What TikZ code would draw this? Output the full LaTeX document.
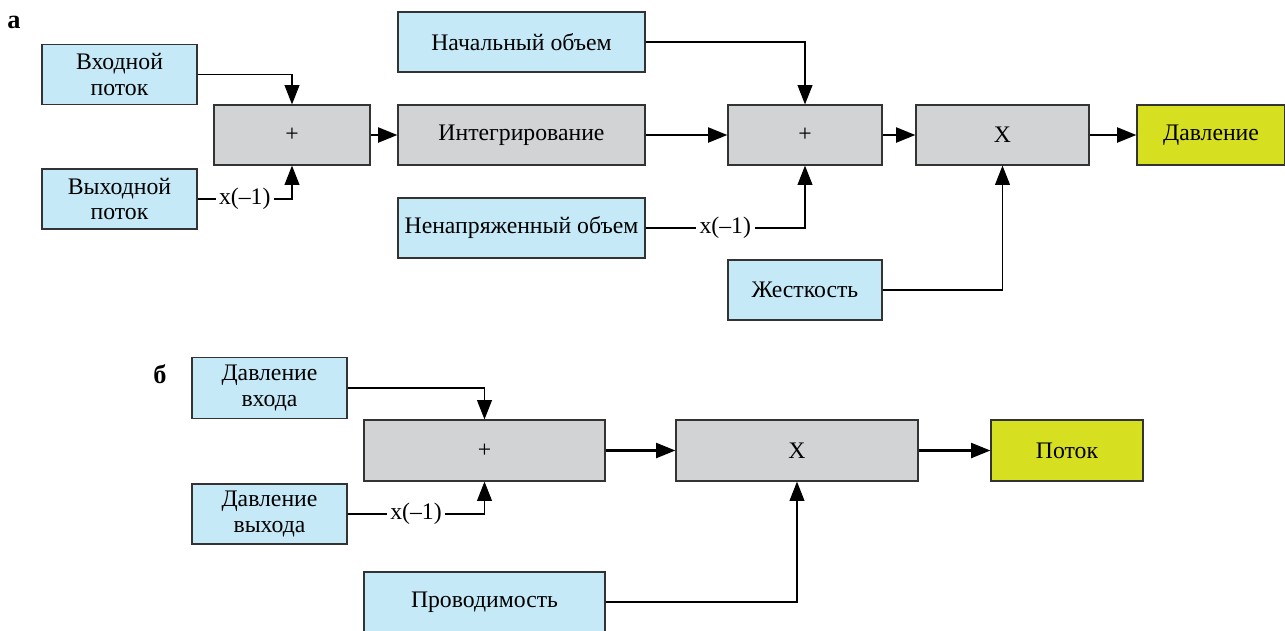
\documentclass[tikz,border=0pt]{standalone}
\usepackage{fontspec}
\setmainfont{Liberation Serif}
\usetikzlibrary{arrows.meta}
\definecolor{inblue}{HTML}{C6E9F8}
\definecolor{opgray}{HTML}{D1D3D4}
\definecolor{outyellow}{HTML}{D7DF21}
\begin{document}
\begin{tikzpicture}[x=0.02cm, y=-0.02cm,
    font=\fontsize{13.5}{14.5}\selectfont,
    blk/.style={draw=black!80, line width=0.7pt, inner sep=0pt, minimum height=1.2cm, align=center},
    src/.style={blk, fill=inblue},
    op/.style={blk, fill=opgray},
    res/.style={blk, fill=outyellow},
    conn/.style={line width=0.6pt, -{Triangle[length=11pt, width=8.5pt]}},
    mainline/.style={line width=1.4pt, -{Triangle[length=11pt, width=8.5pt]}},
    gain/.style={fill=white, inner sep=2pt},
    tag/.style={font=\fontsize{15}{16}\selectfont\bfseries}]
            \useasboundingbox (0,0) rectangle (1285,630);

            % a
            \node[tag] (tagA) at (14,22) {а};
            \node[src, minimum width=3.1cm] (inflow) at (119.5,74.5) {Входной\\поток};
            \node[src, minimum width=3.1cm] (outflow) at (119.5,199) {Выходной\\поток};
            \node[op, minimum width=3.12cm] (sumA) at (292,135) {+};
            \node[op, minimum width=4.94cm] (integ) at (521.5,135) {Интегрирование};
            \node[src, minimum width=4.94cm] (initvol) at (521.5,42) {Начальный объем};
            \node[src, minimum width=4.94cm] (unstr) at (521.5,228) {Ненапряженный объем};
            \node[op, minimum width=3.08cm] (sumB) at (805,135) {+};
            \node[op, minimum width=3.46cm] (multA) at (1002.5,135) {X};
            \node[res, minimum width=2.96cm] (press) at (1211,135) {Давление};
            \node[src, minimum width=3.08cm] (stiff) at (805,290) {Жесткость};

            \draw[conn] (inflow.east) -| (sumA.north);
            \draw[conn] (outflow.east) -| node[gain, pos=0.25] {x(–1)} (sumA.south);
            \draw[mainline] (sumA) -- (integ);
            \draw[mainline] (integ) -- (sumB);
            \draw[conn] (initvol.east) -| (sumB.north);
            \draw[conn] (unstr.east) -| node[gain, pos=0.25] {x(–1)} (sumB.south);
            \draw[mainline] (sumB) -- (multA);
            \draw[mainline] (multA) -- (press);
            \draw[conn] (stiff.east) -| (multA.south);

            % b
            \node[tag] (tagB) at (160,374) {б};
            \node[src, minimum width=3.1cm, minimum height=1.22cm] (pin) at (269.5,388) {Давление\\входа};
            \node[src, minimum width=3.1cm] (pout) at (269.5,514) {Давление\\выхода};
            \node[op, minimum width=4.82cm, minimum height=1.22cm] (sumC) at (484.5,450.5) {+};
            \node[op, minimum width=4.84cm, minimum height=1.22cm] (multB) at (797,450.5) {X};
            \node[res, minimum width=3.04cm, minimum height=1.22cm] (flowout) at (1067,450.5) {Поток};
            \node[src, minimum width=4.82cm] (cond) at (484.5,602) {Проводимость};

            \draw[conn] (pin.east) -| (sumC.north);
            \draw[conn] (pout.east) -| node[gain, pos=0.25] {x(–1)} (sumC.south);
            \draw[mainline] (sumC) -- (multB);
            \draw[mainline] (multB) -- (flowout);
            \draw[conn] (cond.east) -| (multB.south);
        \end{tikzpicture}
\end{document}
